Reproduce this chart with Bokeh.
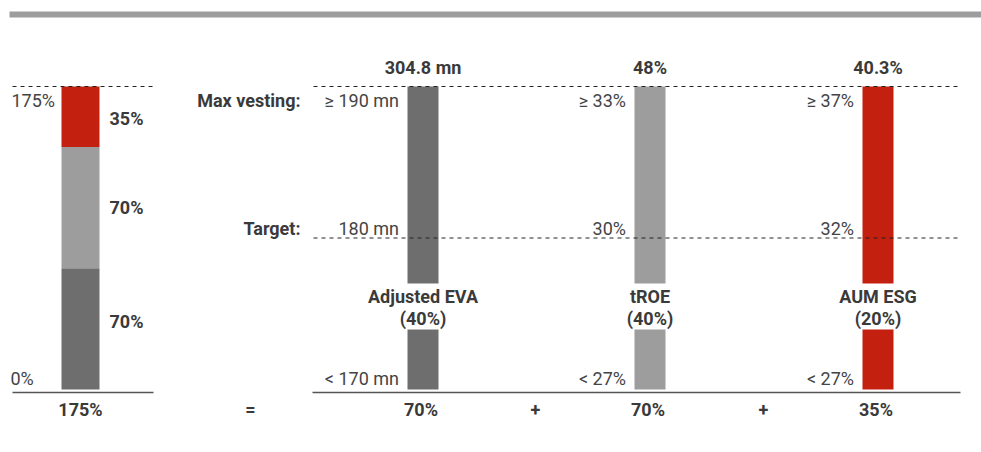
import numpy as np
from bokeh.plotting import figure
from bokeh.models import Range1d
from bokeh.core.properties import value
from bokeh.embed import file_html
from bokeh.resources import INLINE

# ---------------- data ----------------
components = ["Adjusted EVA", "tROE", "AUM ESG"]
weights = ["(40%)", "(40%)", "(20%)"]
max_vesting = [70, 70, 35]          # % of grant at max vesting
achieved_vesting = [70, 70, 35]     # % of grant achieved
actual_results = ["304.8 mn", "48%", "40.3%"]
max_thresholds = ["\u2265 190 mn", "\u2265 33%", "\u2265 37%"]
target_values = ["180 mn", "30%", "32%"]
min_thresholds = ["< 170 mn", "< 27%", "< 27%"]
total_max = 175
total_achieved = 175
colors = ["#6e6e6e", "#9d9d9d", "#c4200f"]

# ---------------- layout ----------------
W, H = 981, 452
PX_ZERO, PX_FULL = 389, 86
scale = (PX_ZERO - PX_FULL) / total_max


def py(pix):
    return (PX_ZERO - pix) / scale


FONT = value("Roboto")
TXT = "#444444"
BOLD = "#3a3a3a"
FS = "18px"

p = figure(width=W, height=H, x_range=Range1d(0, W), y_range=Range1d(py(H), py(0)),
           toolbar_location=None, output_backend="svg",
           min_border=0, min_border_left=0, min_border_right=0,
           min_border_top=0, min_border_bottom=0)
p.axis.visible = False
p.grid.visible = False
p.outline_line_color = None
p.background_fill_color = "white"
p.border_fill_color = "white"

# top band
p.quad(left=[9], right=[W], bottom=[py(17)], top=[py(11)],
       fill_color="#9d9d9d", line_color=None)

# ---------- left stacked bar ----------
vals = np.array(max_vesting, dtype=float)
tops = np.cumsum(vals)
bottoms = tops - vals
left_cx = 80
p.vbar(x=[left_cx] * 3, width=38, bottom=bottoms, top=tops,
       fill_color=colors, line_color=None)

# dashed top & baseline, left
p.segment(x0=[12], x1=[153], y0=[total_max], y1=[total_max],
          line_color="#222222", line_width=1, line_dash="4 4")
p.segment(x0=[12], x1=[153], y0=[py(392)], y1=[py(392)],
          line_color="#555555", line_width=1.5)

# segment labels
mids = (bottoms + tops) / 2
offs = [-7, 0, 2]
p.text(x=[109] * 3, y=mids, text=[f"{int(v)}%" for v in vals],
       y_offset=offs, text_font=FONT, text_font_size=FS, text_font_style="bold",
       text_color=BOLD, text_align="left", text_baseline="middle")
p.text(x=[11, 10], y=[total_max, 0], text=[f"{total_max}%", "0%"],
       y_offset=[14, -11], text_font=FONT, text_font_size=FS,
       text_color=TXT, text_align="left", text_baseline="middle")
p.text(x=[left_cx, 250], y=[py(409)] * 2, text=[f"{total_achieved}%", "="],
       text_font=FONT, text_font_size=FS, text_font_style="bold",
       text_color=BOLD, text_align="center", text_baseline="middle")

# ---------- right panel ----------
cx = [422.5, 649.5, 877.5]
bar_tops = [a / m * total_max for a, m in zip(achieved_vesting, max_vesting)]
target_level = 0.5 * total_max
p.vbar(x=cx, width=31, bottom=0, top=bar_tops, fill_color=colors, line_color=None)
# gap for category labels
p.quad(left=[c - 20 for c in cx], right=[c + 20 for c in cx],
       bottom=[py(329)] * 3, top=[py(283)] * 3, fill_color="white", line_color=None)

p.segment(x0=[313], x1=[960], y0=[total_max], y1=[total_max],
          line_color="#222222", line_width=1, line_dash="4 4")
p.segment(x0=[313], x1=[961], y0=[target_level], y1=[target_level],
          line_color="#222222", line_width=1, line_dash="4 4")
p.segment(x0=[312], x1=[960], y0=[py(392)], y1=[py(392)],
          line_color="#555555", line_width=1.5)

# actual results above bars
p.text(x=cx, y=[total_max] * 3, text=actual_results, y_offset=[-19] * 3,
       text_font=FONT, text_font_size=FS, text_font_style="bold",
       text_color=BOLD, text_align="center", text_baseline="middle")

# row headers
p.text(x=[300, 300], y=[total_max, target_level], text=["Max vesting:", "Target:"],
       y_offset=[14, -10], text_font=FONT, text_font_size=FS, text_font_style="bold",
       text_color=BOLD, text_align="right", text_baseline="middle")

lx = [c - 24 for c in cx]
p.text(x=lx, y=[total_max] * 3, text=max_thresholds, y_offset=[14] * 3,
       text_font=FONT, text_font_size=FS, text_color=TXT,
       text_align="right", text_baseline="middle")
p.text(x=lx, y=[target_level] * 3, text=target_values, y_offset=[-10] * 3,
       text_font=FONT, text_font_size=FS, text_color=TXT,
       text_align="right", text_baseline="middle")
p.text(x=lx, y=[0] * 3, text=min_thresholds, y_offset=[-11] * 3,
       text_font=FONT, text_font_size=FS, text_color=TXT,
       text_align="right", text_baseline="middle")

# category labels
p.text(x=cx, y=[py(296)] * 3, text=components,
       text_font=FONT, text_font_size=FS, text_font_style="bold",
       text_color=BOLD, text_align="center", text_baseline="middle")
p.text(x=cx, y=[py(318)] * 3, text=weights,
       text_font=FONT, text_font_size=FS, text_font_style="bold",
       text_color=BOLD, text_align="center", text_baseline="middle")

# bottom contributions
p.text(x=[c - 2 for c in cx], y=[py(409)] * 3, text=[f"{a}%" for a in achieved_vesting],
       text_font=FONT, text_font_size=FS, text_font_style="bold",
       text_color=BOLD, text_align="center", text_baseline="middle")
p.text(x=[535, 763], y=[py(409)] * 2, text=["+", "+"],
       text_font=FONT, text_font_size=FS, text_font_style="bold",
       text_color=BOLD, text_align="center", text_baseline="middle")

open("out.html", "w").write(file_html(p, INLINE))
